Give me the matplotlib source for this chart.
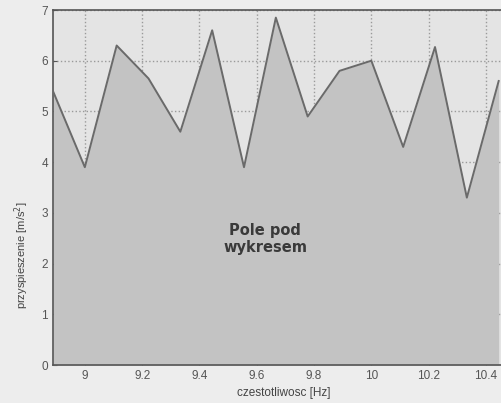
import matplotlib
matplotlib.use("Agg")
import matplotlib.pyplot as plt
import numpy as np

plt.rcParams['font.family'] = ['Liberation Sans', 'DejaVu Sans']

freq = [80/9, 81/9, 82/9, 83/9, 84/9, 85/9, 86/9, 87/9, 88/9, 89/9, 90/9, 91/9, 92/9, 93/9, 94/9]
accel = [5.4, 3.9, 6.3, 5.65, 4.6, 6.6, 3.9, 6.85, 4.9, 5.8, 6.0, 4.3, 6.27, 3.3, 5.6]
xticks = [9, 9.2, 9.4, 9.6, 9.8, 10, 10.2, 10.4]
xticklabels = ["9", "9.2", "9.4", "9.6", "9.8", "10", "10.2", "10.4"]
yticks = [0, 1, 2, 3, 4, 5, 6, 7]

fig = plt.figure(figsize=(5.01, 4.03), dpi=100, facecolor='#ededed')
ax = fig.add_axes([53/501, 38/403, 461.6/501, 355/403])
ax.set_facecolor('#e4e4e4')

ax.fill_between(freq, accel, 0, color='#c3c3c3', zorder=2, linewidth=0)
ax.plot(freq, accel, color='#6a6a6a', linewidth=1.4, zorder=3)

ax.set_xlim(80/9, 10.5)
ax.set_ylim(0, 7)
ax.set_xticks(xticks)
ax.set_xticklabels(xticklabels)
ax.set_yticks(yticks)
ax.set_axisbelow(True)
ax.grid(True, linestyle=':', color='#9a9a9a', linewidth=1.0, zorder=1)
ax.tick_params(direction='in', labelsize=8.5, colors='#555555', length=3)
for s in ax.spines.values():
    s.set_color('#555555')
    s.set_linewidth(1.2)

ax.text(9.63, 2.48, "Pole pod\nwykresem", ha='center', va='center',
        fontsize=10.5, fontweight='bold', color='#3a3a3a', zorder=4,
        linespacing=1.15, family='DejaVu Sans')

ax.set_xlabel("czestotliwosc [Hz]", fontsize=8.5, color='#444444')
ax.xaxis.set_label_coords(0.5, -0.062)
ax.set_ylabel("przyspieszenie [m/s$^2$]", fontsize=8, color='#444444')
ax.yaxis.set_label_coords(-0.048, 0.31)

fig.savefig("out.png", dpi=100, facecolor=fig.get_facecolor())
